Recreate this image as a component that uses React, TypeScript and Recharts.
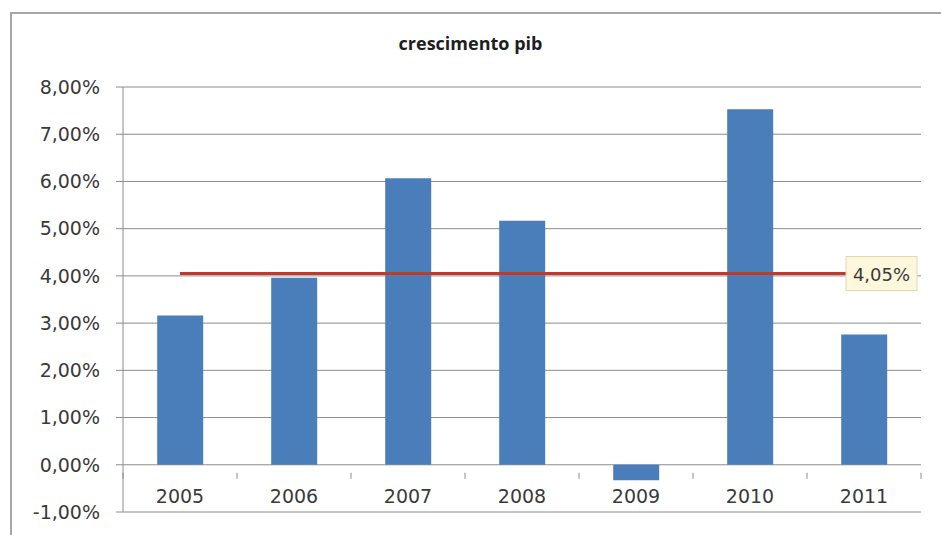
import React from "react";
import {
  ComposedChart,
  Bar,
  Line,
  XAxis,
  YAxis,
  CartesianGrid,
  LabelList,
} from "recharts";

const anos = ["2005", "2006", "2007", "2008", "2009", "2010", "2011"];
const crescimento = [3.16, 3.96, 6.07, 5.17, -0.33, 7.53, 2.76];
const media = 4.05;
const yTicks = [-1, 0, 1, 2, 3, 4, 5, 6, 7, 8];

const data = anos.map((ano, i) => ({
  ano,
  pib: crescimento[i],
  media,
}));

const W = 941;
const H = 535;
const MARGIN = { top: 87, right: 20, bottom: 22, left: 53 };
const Y_AXIS_W = 70;
const PLOT_W = W - MARGIN.left - Y_AXIS_W - MARGIN.right;
const PLOT_H = H - MARGIN.top - MARGIN.bottom - 1;
const STEP = PLOT_W / anos.length;

const GRID = "#8c8c8c";
const TXT = "#3a3a3a";
const FONT = "'DejaVu Sans', sans-serif";

const pct = (v: number) => v.toFixed(2).replace(".", ",") + "%";

// category labels sit between the 0% and -1% lines, with boundary ticks on the 0% line
function AnoTick(props: any) {
  const { x, y, payload, index } = props;
  const zeroY = y - PLOT_H / 9;
  return (
    <g>
      <line x1={x - STEP / 2} x2={x - STEP / 2} y1={zeroY} y2={zeroY + 6} stroke={GRID} />
      {index === anos.length - 1 && (
        <line x1={x + STEP / 2} x2={x + STEP / 2} y1={zeroY} y2={zeroY + 6} stroke={GRID} />
      )}
      <text
        x={x}
        y={zeroY + 30}
        textAnchor="middle"
        fontSize={19}
        fontFamily={FONT}
        fill={TXT}
      >
        {payload.value}
      </text>
    </g>
  );
}

function MediaLabel(props: any) {
  const { x, y, index, value } = props;
  if (index !== anos.length - 1) return null;
  return (
    <g>
      <rect x={x - 18} y={y - 17} width={71} height={34} fill="#fdf7dc" stroke="#e2d9b3" />
      <text
        x={x + 17.5}
        y={y + 7}
        textAnchor="middle"
        fontSize={18}
        fontFamily={FONT}
        fill={TXT}
      >
        {pct(value)}
      </text>
    </g>
  );
}

export default function App() {
  return (
    <div
      style={{
        position: "fixed",
        left: 0,
        top: 0,
        width: W,
        height: H,
        overflow: "hidden",
        background: "#fff",
      }}
    >
      <div
        style={{
          position: "absolute",
          left: 10,
          top: 12,
          width: W + 20,
          height: H + 20,
          border: "2px solid #a6a6a6",
        }}
      />
      <div
        style={{
          position: "absolute",
          left: 0,
          top: 31,
          width: W,
          textAlign: "center",
          fontFamily: "'Open Sans', sans-serif",
          fontWeight: 700,
          fontSize: 18,
          color: "#1e1e1e",
        }}
      >
        crescimento pib
      </div>
      <div style={{ position: "absolute", left: 0, top: 0 }}>
        <ComposedChart
          width={W}
          height={H}
          data={data}
          margin={MARGIN}
          barCategoryGap="30%"
        >
          <CartesianGrid vertical={false} stroke={GRID} />
          <XAxis
            dataKey="ano"
            height={1}
            axisLine={false}
            tickLine={false}
            tick={<AnoTick />}
            interval={0}
          />
          <YAxis
            width={Y_AXIS_W}
            domain={[-1, 8]}
            ticks={yTicks}
            tickFormatter={pct}
            axisLine={{ stroke: GRID }}
            tickLine={{ stroke: GRID }}
            tickSize={7}
            tickMargin={16}
            tick={{ fontSize: 19, fontFamily: FONT, fill: TXT }}
          />
          <Bar dataKey="pib" fill="#4a7ebb" isAnimationActive={false} />
          <Line
            dataKey="media"
            stroke="#c0392f"
            strokeWidth={3}
            dot={false}
            isAnimationActive={false}
          >
            <LabelList dataKey="media" content={<MediaLabel />} />
          </Line>
        </ComposedChart>
      </div>
    </div>
  );
}
